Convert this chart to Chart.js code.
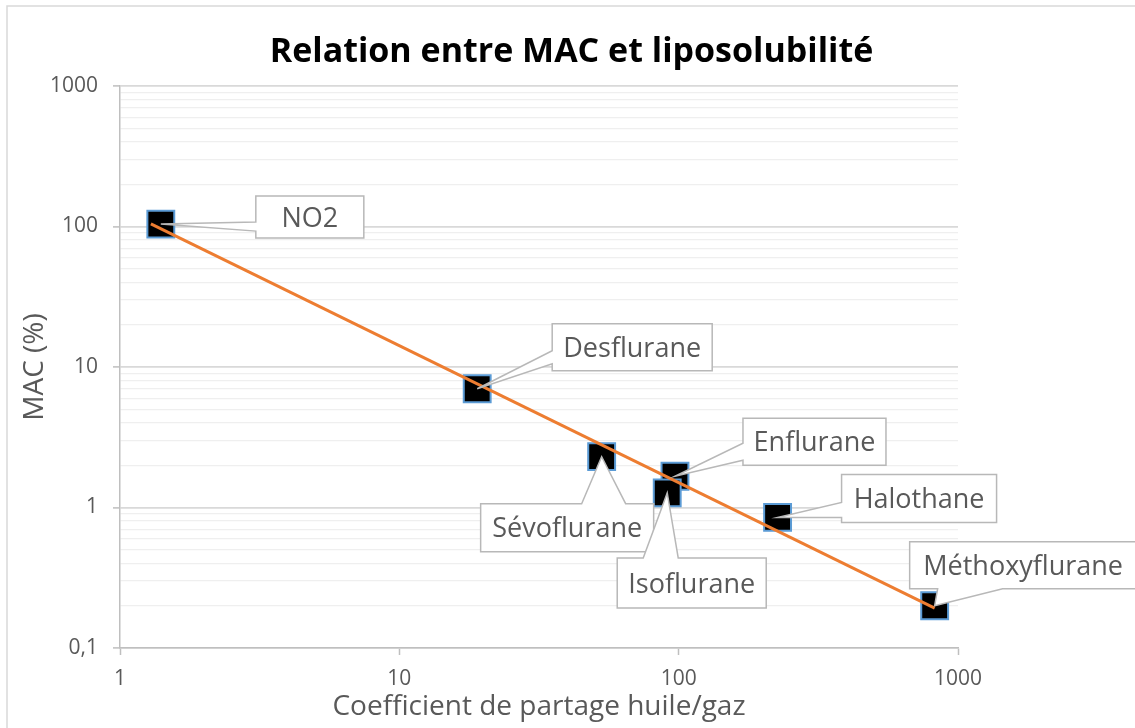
<!DOCTYPE html>
<html>
<head>
<meta charset="utf-8">
<script src="https://cdn.jsdelivr.net/npm/chart.js@4.4.1/dist/chart.umd.min.js"></script>
<style>
  html, body { margin: 0; padding: 0; background: #ffffff; }
  canvas { display: block; }
</style>
</head>
<body>
<canvas id="c" width="1135" height="728"></canvas>
<script>
// ---------- data ----------
const agents       = ['NO2', 'Desflurane', 'Sévoflurane', 'Enflurane', 'Isoflurane', 'Halothane', 'Méthoxyflurane'];
const oilGasCoeff  = [1.4, 19, 53, 97, 91, 226, 825];
const macPercent   = [104, 7.0, 2.3, 1.67, 1.27, 0.85, 0.2];
const trendX       = [1.29, 825];
const trendY       = [104.4, 0.192];
const xTickValues  = [1, 10, 100, 1000];
const xTickLabels  = ['1', '10', '100', '1000'];
const yMajorValues = [0.1, 1, 10, 100, 1000];
const yTickLabels  = ['0,1', '1', '10', '100', '1000'];
const chartTitle   = 'Relation entre MAC et liposolubilité';
const xTitle       = 'Coefficient de partage huile/gaz';
const yTitle       = 'MAC (%)';

// ---------- styling / layout ----------
const FONT = "'Open Sans'";
const TEXT_GRAY = '#595959';
// callout boxes placed relative to their point (pixels)
const calloutLayout = [
  { dx: 95,   dy: -28, w: 108, h: 42, side: 'left',   a: 26, b: 35 },
  { dx: 75,   dy: -65, w: 160, h: 47, side: 'left',   a: 27, b: 40 },
  { dx: -121, dy: 47,  w: 173, h: 48, side: 'top',    a: 101, b: 145 },
  { dx: 68,   dy: -58, w: 143, h: 47, side: 'left',   a: 25, b: 42 },
  { dx: -50,  dy: 65,  w: 149, h: 50, side: 'top',    a: 26, b: 61 },
  { dx: 64,   dy: -43, w: 155, h: 48, side: 'left',   a: 28, b: 43 },
  { dx: -25,  dy: -64, w: 227, h: 47, side: 'bottom', a: 28, b: 93 }
];
const LABEL_SIZE = 27;

function isMajorY(v) {
  return yMajorValues.some(m => Math.abs(m - v) / m < 1e-6);
}
function yLabelFor(v) {
  const i = yMajorValues.findIndex(m => Math.abs(m - v) / m < 1e-6);
  return i >= 0 ? yTickLabels[i] : '';
}

const decoPlugin = {
  id: 'deco',
  beforeDraw(chart) {
    const ctx = chart.ctx;
    ctx.save();
    ctx.fillStyle = '#ffffff';
    ctx.fillRect(0, 0, chart.width, chart.height);
    ctx.strokeStyle = '#d9d9d9';
    ctx.lineWidth = 1.5;
    ctx.strokeRect(7, 6, chart.width + 20, chart.height + 20);
    ctx.fillStyle = '#000000';
    ctx.font = 'bold 34px ' + FONT;
    ctx.textAlign = 'center';
    ctx.textBaseline = 'alphabetic';
    ctx.fillText(chartTitle, 571.5, 62);
    ctx.restore();
  },
  afterDatasetsDraw(chart) {
    const ctx = chart.ctx;
    const xs = chart.scales.x, ys = chart.scales.y;
    ctx.save();
    agents.forEach((name, i) => {
      const L = calloutLayout[i];
      const px = xs.getPixelForValue(oilGasCoeff[i]);
      const py = ys.getPixelForValue(macPercent[i]);
      const x0 = px + L.dx, y0 = py + L.dy, x1 = x0 + L.w, y1 = y0 + L.h;
      ctx.beginPath();
      if (L.side === 'left') {
        ctx.moveTo(x0, y0); ctx.lineTo(x1, y0); ctx.lineTo(x1, y1); ctx.lineTo(x0, y1);
        ctx.lineTo(x0, y0 + L.b); ctx.lineTo(px, py); ctx.lineTo(x0, y0 + L.a);
      } else if (L.side === 'top') {
        ctx.moveTo(x0, y0); ctx.lineTo(x0 + L.a, y0); ctx.lineTo(px, py); ctx.lineTo(x0 + L.b, y0);
        ctx.lineTo(x1, y0); ctx.lineTo(x1, y1); ctx.lineTo(x0, y1);
      } else {
        ctx.moveTo(x0, y0); ctx.lineTo(x1, y0); ctx.lineTo(x1, y1); ctx.lineTo(x0 + L.b, y1);
        ctx.lineTo(px, py); ctx.lineTo(x0 + L.a, y1); ctx.lineTo(x0, y1);
      }
      ctx.closePath();
      ctx.fillStyle = '#ffffff';
      ctx.fill();
      ctx.strokeStyle = '#b8b8b8';
      ctx.lineWidth = 1.5;
      ctx.lineJoin = 'miter';
      ctx.stroke();
      ctx.fillStyle = TEXT_GRAY;
      ctx.font = LABEL_SIZE + 'px ' + FONT;
      ctx.textAlign = 'center';
      ctx.textBaseline = 'alphabetic';
      ctx.fillText(name, (x0 + x1) / 2, (y0 + y1) / 2 + 0.357 * LABEL_SIZE);
    });
    ctx.restore();
  }
};

const scatterPoints = oilGasCoeff.map((x, i) => ({ x: x, y: macPercent[i] }));
const trendPoints = trendX.map((x, i) => ({ x: x, y: trendY[i] }));

new Chart(document.getElementById('c'), {
  type: 'scatter',
  data: {
    datasets: [
      {
        label: 'Tendance',
        data: trendPoints,
        showLine: true,
        pointRadius: 0,
        borderColor: '#ED7D31',
        borderWidth: 3,
        order: 0
      },
      {
        label: 'MAC',
        data: scatterPoints,
        pointStyle: 'rect',
        pointRadius: 19,
        pointHoverRadius: 19,
        backgroundColor: '#000000',
        borderColor: '#5B9BD5',
        borderWidth: 2,
        order: 1
      }
    ]
  },
  plugins: [decoPlugin],
  options: {
    responsive: false,
    devicePixelRatio: 1,
    animation: false,
    events: [],
    layout: { padding: { left: 0, right: 177, top: 86, bottom: 0 } },
    plugins: {
      legend: { display: false },
      title: { display: false },
      tooltip: { enabled: false }
    },
    scales: {
      x: {
        type: 'logarithmic',
        min: 1,
        max: 1000,
        afterBuildTicks: (s) => { s.ticks = xTickValues.map(v => ({ value: v })); },
        afterFit: (s) => { s.height = 80; },
        ticks: {
          autoSkip: false,
          maxRotation: 0,
          padding: 11,
          color: TEXT_GRAY,
          font: { family: FONT, size: 21 },
          callback: (v) => {
            const i = xTickValues.indexOf(v);
            return i >= 0 ? xTickLabels[i] : '';
          }
        },
        grid: {
          drawOnChartArea: false,
          drawTicks: true,
          tickLength: 7,
          tickColor: '#bfbfbf',
          tickWidth: 1.5
        },
        border: { display: true, color: '#bfbfbf', width: 1.5 },
        title: {
          display: true,
          text: xTitle,
          color: TEXT_GRAY,
          font: { family: FONT, size: 28 },
          padding: { top: 0, bottom: 4 }
        }
      },
      y: {
        type: 'logarithmic',
        min: 0.1,
        max: 1000,
        afterBuildTicks: (s) => {
          const t = [];
          for (let e = -1; e <= 2; e++) {
            for (let d = 1; d <= 9; d++) {
              t.push({ value: parseFloat((d * Math.pow(10, e)).toPrecision(3)) });
            }
          }
          t.push({ value: 1000 });
          s.ticks = t;
        },
        afterFit: (s) => { s.width = 120; },
        ticks: {
          autoSkip: false,
          padding: 15,
          color: TEXT_GRAY,
          font: { family: FONT, size: 21 },
          callback: (v) => yLabelFor(v)
        },
        grid: {
          drawTicks: true,
          tickLength: 7,
          color: (c) => (c.tick && isMajorY(c.tick.value)) ? '#d9d9d9' : '#efefef',
          lineWidth: (c) => (c.tick && isMajorY(c.tick.value)) ? 1.8 : 1.3,
          tickColor: (c) => (c.tick && isMajorY(c.tick.value)) ? '#bfbfbf' : 'rgba(0,0,0,0)',
          tickWidth: 1.5
        },
        border: { display: true, color: '#bfbfbf', width: 1.5 },
        title: {
          display: true,
          text: yTitle,
          color: TEXT_GRAY,
          font: { family: FONT, size: 28 },
          padding: { top: 18, bottom: 0 }
        }
      }
    }
  }
});
</script>
</body>
</html>
